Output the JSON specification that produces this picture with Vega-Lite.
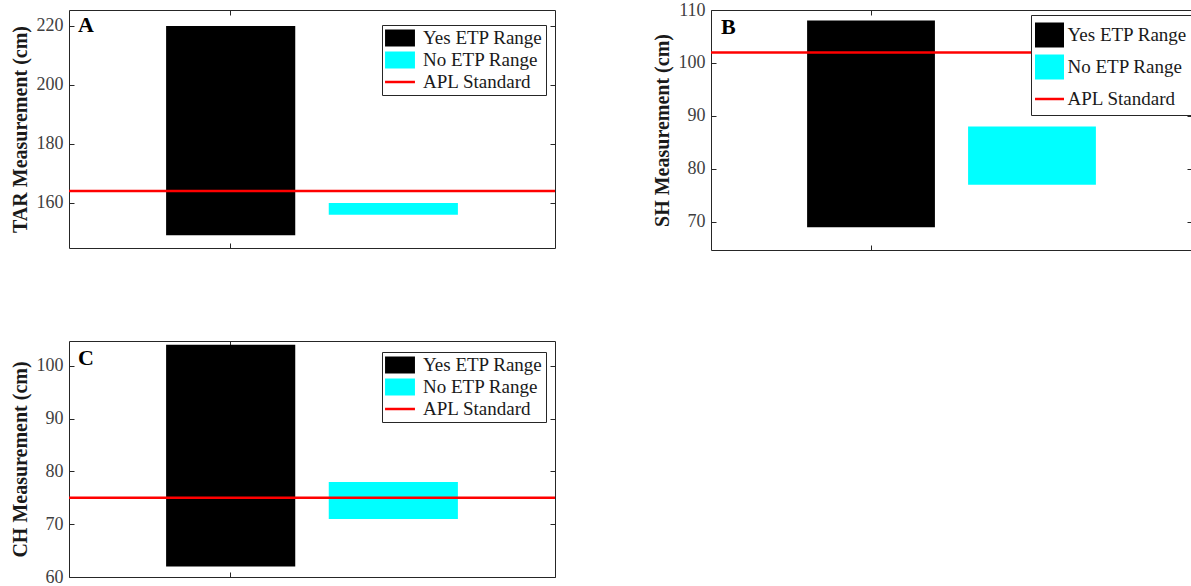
{
  "$schema": "https://vega.github.io/schema/vega-lite/v6.json",
  "background": "white",
  "padding": {"left": 9, "top": 0, "right": 0, "bottom": 0},
  "datasets": {
    "barsA": [
      {"group": "Yes ETP Range", "low": 149, "high": 220},
      {"group": "No ETP Range", "low": 156, "high": 160}
    ],
    "stdA": [{"series": "APL Standard", "standard": 164}],
    "barsB": [
      {"group": "Yes ETP Range", "low": 69, "high": 108},
      {"group": "No ETP Range", "low": 77, "high": 88}
    ],
    "stdB": [{"series": "APL Standard", "standard": 102}],
    "barsC": [
      {"group": "Yes ETP Range", "low": 62, "high": 104},
      {"group": "No ETP Range", "low": 71, "high": 78}
    ],
    "stdC": [{"series": "APL Standard", "standard": 75}]
  },
  "columns": 2,
  "bounds": "flush",
  "spacing": {"row": 91, "column": 156},
  "concat": [
    {
      "width": 486, "height": 238,
      "title": {"text": "A", "anchor": "start", "frame": "group", "offset": -8, "dx": 9, "dy": 19, "baseline": "top", "fontSize": 22, "font": "Liberation Serif", "fontWeight": "bold", "color": "#000000"},
      "layer": [
        {
          "data": {"name": "barsA"},
          "mark": {"type": "bar"},
          "encoding": {
            "x": {"field": "group", "type": "nominal", "sort": ["Yes ETP Range", "No ETP Range"], "scale": {"paddingInner": 0.206, "paddingOuter": 0.597}, "axis": {"orient": "bottom", "values": ["Yes ETP Range"], "labels": false, "title": null}},
            "y": {"field": "low", "type": "quantitative", "scale": {"domain": [144.7, 225.4], "nice": false, "zero": false}, "axis": {"orient": "left", "values": [160, 180, 200, 220], "title": "TAR Measurement (cm)"}},
            "y2": {"field": "high"},
            "color": {"field": "group", "type": "nominal", "scale": {"domain": ["Yes ETP Range", "No ETP Range", "APL Standard"], "range": ["#000000", "#00ffff", "#ff0000"]},
              "legend": {"orient": "none", "legendX": 313, "legendY": 15, "symbolSize": 289, "rowPadding": 2, "symbolOffset": 5, "labelOffset": 13,
                "symbolType": {"expr": "datum.value === 'APL Standard' ? 'M-1.76,0H1.76' : 'M-1.76,-1H1.76V1H-1.76Z'"},
                "symbolStrokeColor": {"expr": "datum.value === 'APL Standard' ? '#ff0000' : null"},
                "symbolStrokeWidth": 2.5}}
          }
        },
        {
          "data": {"name": "stdA"},
          "mark": {"type": "rule", "color": "#ff0000", "strokeWidth": 2.5},
          "encoding": {"y": {"field": "standard", "type": "quantitative", "axis": {"orient": "right", "values": [160, 180, 200, 220], "labels": false, "title": null}}}
        },
        {
          "data": {"name": "barsA"},
          "mark": {"type": "bar", "opacity": 0},
          "encoding": {
            "x": {"field": "group", "type": "nominal", "sort": ["Yes ETP Range", "No ETP Range"], "axis": {"orient": "top", "values": ["Yes ETP Range"], "labels": false, "title": null}},
            "y": {"field": "low", "type": "quantitative", "axis": null},
            "y2": {"field": "high"}
          }
        }
      ],
      "resolve": {"axis": {"x": "independent", "y": "independent"}}
    },
    {
      "width": 481, "height": 240,
      "title": {"text": "B", "anchor": "start", "frame": "group", "offset": -8, "dx": 10, "dy": 30, "baseline": "top", "fontSize": 22, "font": "Liberation Serif", "fontWeight": "bold", "color": "#000000"},
      "layer": [
        {
          "data": {"name": "barsB"},
          "mark": {"type": "bar"},
          "encoding": {
            "x": {"field": "group", "type": "nominal", "sort": ["Yes ETP Range", "No ETP Range"], "scale": {"paddingInner": 0.206, "paddingOuter": 0.597}, "axis": {"orient": "bottom", "values": ["Yes ETP Range"], "labels": false, "title": null}},
            "y": {"field": "low", "type": "quantitative", "scale": {"domain": [64.7, 110], "nice": false, "zero": false}, "axis": {"orient": "left", "values": [70, 80, 90, 100, 110], "title": "SH Measurement (cm)"}},
            "y2": {"field": "high"},
            "color": {"field": "group", "type": "nominal", "scale": {"domain": ["Yes ETP Range", "No ETP Range", "APL Standard"], "range": ["#000000", "#00ffff", "#ff0000"]},
              "legend": {"orient": "none", "legendX": 320, "legendY": 5, "padding": 6, "symbolSize": 625, "rowPadding": 5, "symbolOffset": -1.5, "labelOffset": 4,
                "symbolType": {"expr": "datum.value === 'APL Standard' ? 'M-1.16,0H1.16' : 'M-1.16,-1H1.16V1H-1.16Z'"},
                "symbolStrokeColor": {"expr": "datum.value === 'APL Standard' ? '#ff0000' : null"},
                "symbolStrokeWidth": 2.5}}
          }
        },
        {
          "data": {"name": "stdB"},
          "mark": {"type": "rule", "color": "#ff0000", "strokeWidth": 2.5},
          "encoding": {"y": {"field": "standard", "type": "quantitative", "axis": {"orient": "right", "values": [70, 80, 90, 100, 110], "labels": false, "title": null}}}
        },
        {
          "data": {"name": "barsB"},
          "mark": {"type": "bar", "opacity": 0},
          "encoding": {
            "x": {"field": "group", "type": "nominal", "sort": ["Yes ETP Range", "No ETP Range"], "axis": {"orient": "top", "values": ["Yes ETP Range"], "labels": false, "title": null}},
            "y": {"field": "low", "type": "quantitative", "axis": null},
            "y2": {"field": "high"}
          }
        }
      ],
      "resolve": {"axis": {"x": "independent", "y": "independent"}}
    },
    {
      "width": 486, "height": 236,
      "title": {"text": "C", "anchor": "start", "frame": "group", "offset": -8, "dx": 9, "dy": 21, "baseline": "top", "fontSize": 22, "font": "Liberation Serif", "fontWeight": "bold", "color": "#000000"},
      "layer": [
        {
          "data": {"name": "barsC"},
          "mark": {"type": "bar"},
          "encoding": {
            "x": {"field": "group", "type": "nominal", "sort": ["Yes ETP Range", "No ETP Range"], "scale": {"paddingInner": 0.206, "paddingOuter": 0.597}, "axis": {"orient": "bottom", "values": ["Yes ETP Range"], "labels": false, "title": null}},
            "y": {"field": "low", "type": "quantitative", "scale": {"domain": [60, 104.7], "nice": false, "zero": false}, "axis": {"orient": "left", "values": [60, 70, 80, 90, 100], "title": "CH Measurement (cm)"}},
            "y2": {"field": "high"},
            "color": {"field": "group", "type": "nominal", "scale": {"domain": ["Yes ETP Range", "No ETP Range", "APL Standard"], "range": ["#000000", "#00ffff", "#ff0000"]},
              "legend": {"orient": "none", "legendX": 313, "legendY": 11, "symbolSize": 289, "rowPadding": 2, "symbolOffset": 5, "labelOffset": 13,
                "symbolType": {"expr": "datum.value === 'APL Standard' ? 'M-1.76,0H1.76' : 'M-1.76,-1H1.76V1H-1.76Z'"},
                "symbolStrokeColor": {"expr": "datum.value === 'APL Standard' ? '#ff0000' : null"},
                "symbolStrokeWidth": 2.5}}
          }
        },
        {
          "data": {"name": "stdC"},
          "mark": {"type": "rule", "color": "#ff0000", "strokeWidth": 2.5},
          "encoding": {"y": {"field": "standard", "type": "quantitative", "axis": {"orient": "right", "values": [60, 70, 80, 90, 100], "labels": false, "title": null}}}
        },
        {
          "data": {"name": "barsC"},
          "mark": {"type": "bar", "opacity": 0},
          "encoding": {
            "x": {"field": "group", "type": "nominal", "sort": ["Yes ETP Range", "No ETP Range"], "axis": {"orient": "top", "values": ["Yes ETP Range"], "labels": false, "title": null}},
            "y": {"field": "low", "type": "quantitative", "axis": null},
            "y2": {"field": "high"}
          }
        }
      ],
      "resolve": {"axis": {"x": "independent", "y": "independent"}}
    }
  ],
  "resolve": {"scale": {"color": "independent", "x": "independent", "y": "independent"}, "legend": {"color": "independent"}},
  "config": {
    "font": "Liberation Serif",
    "view": {"stroke": "#262626", "strokeWidth": 1},
    "bar": {"stroke": null},
    "axis": {
      "labelFont": "Liberation Serif", "labelFontSize": 18, "labelColor": "#404040",
      "titleFont": "Liberation Serif", "titleFontSize": 20, "titleFontWeight": "bold", "titleColor": "#1a1a1a", "titlePadding": 6,
      "domain": false, "grid": false, "tickColor": "#262626", "tickSize": -5, "labelPadding": 11
    },
    "legend": {
      "title": null, "labelFont": "Liberation Serif", "labelFontSize": 19, "labelColor": "#1a1a1a",
      "padding": 3, "strokeColor": "#262626", "fillColor": "white", "labelLimit": 0
    }
  }
}
